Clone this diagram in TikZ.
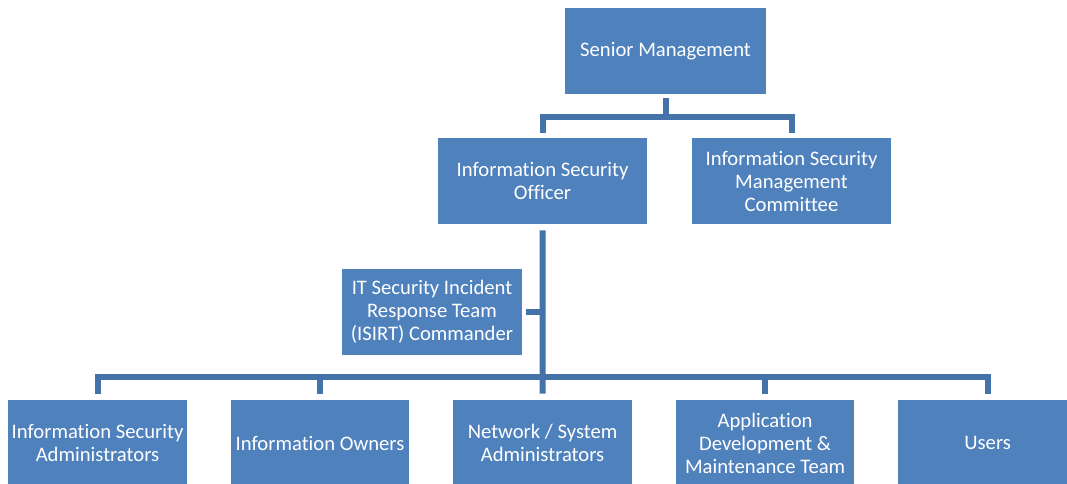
\documentclass[tikz,border=0pt]{standalone}
\usepackage{fontspec}
\setmainfont[Ligatures=NoCommon]{Carlito}
\usetikzlibrary{positioning}
\definecolor{boxblue}{HTML}{4F81BD}
\definecolor{lineblue}{HTML}{4672AA}

\begin{document}
\begin{tikzpicture} [x=0.75pt, y=-0.75pt,
        box/.style = {fill=boxblue, text=white, align=center, inner sep=2pt,
            minimum height=64.5pt, font=\fontsize{15.5}{17.25}\selectfont},
        link/.style = {draw=lineblue, line width=4.5pt}]
        \useasboundingbox (0,0) rectangle (1067,484);

        %Knoten
        \node[box, minimum width=151pt] (sm) at (665.5,51) {Senior Management};

        \node[box, minimum width=157pt] (iso) at (542.5,181) {Information Security\\Officer};
        \node[box, minimum width=149pt] (ismc) at (791.5,181) {Information Security\\Management\\Committee};

        \node[box, minimum width=135pt] (isirt) at (432,312) {IT Security Incident\\Response Team\\(ISIRT) Commander};

        \node[box, minimum width=134pt] (isa) at (97.5,443) {Information Security\\Administrators};
        \node[box, minimum width=134pt] (own) [right = 32.5pt of isa] {Information Owners};
        \node[box, minimum width=134pt] (net) [right = 32.5pt of own] {Network / System\\Administrators};
        \node[box, minimum width=134pt] (dev) [right = 32.5pt of net] {Application\\Development \&\\Maintenance Team};
        \node[box, minimum width=134pt] (usr) [right = 32.5pt of dev] {Users};

        \coordinate (bus1) at (665.5,117.5);
        \coordinate (bus2) at (542.5,377);

        %Kanten
        \draw[link, shorten <=3pt] (sm.south) -- (bus1);
        \draw[link, shorten >=3.5pt] (bus1) -| (iso.north);
        \draw[link, shorten >=3.5pt] (bus1) -| (ismc.north);

        \draw[link, shorten <=4.5pt, shorten >=4.5pt] (iso.south) -- (net.north);
        \draw[link, shorten <=3pt] (isirt.east) -- (isirt.east -| iso.south);

        \foreach \n in {isa, own, dev, usr}
            \draw[link, shorten >=4.5pt] (bus2) -| (\n.north);

    \end{tikzpicture}
\end{document}
